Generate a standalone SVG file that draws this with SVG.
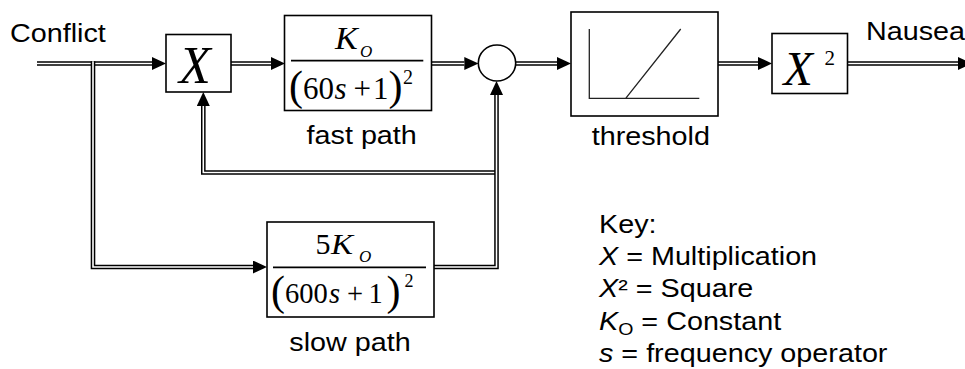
<svg xmlns="http://www.w3.org/2000/svg" width="965" height="369" viewBox="0 0 965 369">
<style>
.box{fill:#fff;stroke:#000;stroke-width:1.6}
.outer{fill:none;stroke:#000;stroke-width:4.6;stroke-linejoin:miter}
.inner{fill:none;stroke:#fff;stroke-width:1.6;stroke-linejoin:miter}
.lbl{font-family:"Liberation Sans",Arial,sans-serif;font-size:25px;fill:#000}
.math{font-family:"Liberation Serif","Times New Roman",serif;fill:#000}
.it{font-style:italic}
.frac{stroke:#000;stroke-width:1.8}
.thr{stroke:#222;stroke-width:1.3;fill:none}
</style>
<defs>
<marker id="arr" viewBox="0 0 14 13" refX="0" refY="6.5" markerWidth="14" markerHeight="13" markerUnits="userSpaceOnUse" orient="auto">
<path d="M0,0 L14,6.5 L0,13 z" fill="#000"/>
</marker>
</defs>

<g id="connectors">
<path class="outer" d="M37,63.5 H152" marker-end="url(#arr)"/>
<path class="inner" d="M37,63.5 H152"/>
<path class="outer" d="M93,61.2 V267 H253" marker-end="url(#arr)"/>
<path class="inner" d="M93,61.2 V267 H253"/>
<path class="outer" d="M231,63.5 H271" marker-end="url(#arr)"/>
<path class="inner" d="M231,63.5 H271"/>
<path class="outer" d="M423,63.5 H464.3" marker-end="url(#arr)"/>
<path class="inner" d="M423,63.5 H464.3"/>
<path class="outer" d="M515.7,63.5 H557" marker-end="url(#arr)"/>
<path class="inner" d="M515.7,63.5 H557"/>
<path class="outer" d="M718,63.5 H758" marker-end="url(#arr)"/>
<path class="inner" d="M718,63.5 H758"/>
<path class="outer" d="M847,63.5 H958" marker-end="url(#arr)"/>
<path class="inner" d="M847,63.5 H958"/>
<path class="outer" d="M496.5,172.5 H203.3 V106" marker-end="url(#arr)"/>
<path class="inner" d="M496.5,172.5 H203.3 V106"/>
<path class="outer" d="M434,267 H496.5 V95" marker-end="url(#arr)"/>
<path class="inner" d="M434,267 H496.5 V95"/>
</g>

<g id="conflict">
<text class="lbl" transform="translate(10,42) scale(1.15,1)">Conflict</text>
</g>

<g id="mult">
<rect class="box" x="166" y="34.5" width="65" height="57.5"/>
<text class="math it" font-size="52" x="179" y="83.3">X</text>
</g>

<g id="fast">
<rect class="box" x="284.5" y="15.5" width="147" height="95"/>
<line class="frac" x1="291" y1="60.7" x2="423.3" y2="60.7"/>
<text class="math it" font-size="31" x="335" y="49" transform="translate(335,0) scale(1.1,1) translate(-335,0)">K</text>
<text class="math it" font-size="17" x="360" y="56.7">O</text>
<text class="math" font-size="42" x="289" y="99.5">(</text>
<text class="math" font-size="31" x="303" y="99">60</text>
<text class="math it" font-size="31" x="334.5" y="99">s</text>
<text class="math" font-size="31" x="353.5" y="99">+</text>
<text class="math" font-size="31" x="373" y="99">1</text>
<text class="math" font-size="42" x="388.5" y="99.5">)</text>
<text class="math" font-size="20" x="403" y="84">2</text>
<text class="lbl" text-anchor="middle" transform="translate(361.7,144) scale(1.15,1)">fast path</text>
</g>

<g id="sum">
<ellipse cx="497" cy="63" rx="18.7" ry="18" fill="#fff" stroke="#000" stroke-width="1.6"/>
</g>

<g id="threshold">
<rect class="box" x="571" y="12" width="147" height="104"/>
<path class="thr" d="M589.3,29 V98.3 H699.3 M625.7,98.3 L680.7,29"/>
<text class="lbl" text-anchor="middle" transform="translate(650.8,145) scale(1.15,1)">threshold</text>
</g>

<g id="square">
<rect class="box" x="772" y="33.5" width="75.5" height="60"/>
<text class="math it" font-size="48" x="783.5" y="85">X</text>
<text class="math" font-size="21" x="824.5" y="65">2</text>
</g>

<g id="nausea">
<text class="lbl" transform="translate(866,40) scale(1.15,1)">Nausea</text>
</g>

<g id="slow">
<rect class="box" x="267" y="222" width="167" height="95"/>
<line class="frac" x1="273" y1="267.3" x2="426" y2="267.3"/>
<text class="math" font-size="30" x="315.5" y="254">5</text>
<text class="math it" font-size="30" x="331" y="254" transform="translate(331,0) scale(1.1,1) translate(-331,0)">K</text>
<text class="math it" font-size="17" x="359" y="261.7">O</text>
<text class="math" font-size="42" x="271" y="304.5">(</text>
<text class="math" font-size="28.5" x="285" y="303">600</text>
<text class="math it" font-size="28.5" x="329" y="303">s</text>
<text class="math" font-size="28.5" x="347" y="303">+</text>
<text class="math" font-size="28.5" x="368.5" y="303">1</text>
<text class="math" font-size="42" x="386.5" y="304.5">)</text>
<text class="math" font-size="18" x="404.5" y="287">2</text>
<text class="lbl" text-anchor="middle" transform="translate(350,351) scale(1.15,1)">slow path</text>
</g>

<g id="key" class="lbl" transform="translate(599,0) scale(1.15,1)">
<text x="0" y="233">Key:</text>
<text x="0" y="265"><tspan class="it">X</tspan> = Multiplication</text>
<text x="0" y="297.5"><tspan class="it">X</tspan>² = Square</text>
<text x="0" y="330"><tspan class="it">K</tspan><tspan font-size="17" dy="5">O</tspan><tspan dy="-5"> = Constant</tspan></text>
<text x="0" y="362"><tspan class="it">s</tspan> = frequency operator</text>
</g>
</svg>
